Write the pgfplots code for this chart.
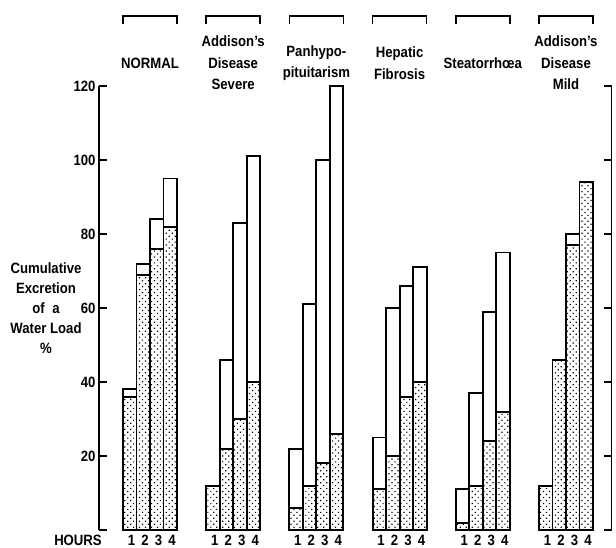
\documentclass[border=0pt]{standalone}
\usepackage{fontspec}
\newfontfamily\lab{Liberation Sans}[FakeStretch=0.88]
\usepackage{pgfplots}
\pgfplotsset{compat=1.18}
\usepackage{pgfplotstable}
\usetikzlibrary{patterns.meta}

% x = bar centre (in picture units), tot = cumulative total, st = stippled part
\pgfplotstableread{
x tot st
129.75 38 36
143.25 72 69
156.75 84 76
170.25 95 82
212.95 12 12
226.45 46 22
239.95 83 30
253.45 101 40
296.15 22 6
309.65 61 12
323.15 100 18
336.65 120 26
379.35 25 11
392.85 60 20
406.35 66 36
419.85 71 40
462.55 11 2
476.05 37 12
489.55 59 24
503.05 75 32
545.75 12 12
559.25 46 46
572.75 80 77
586.25 94 94
}\data

\newcommand\lf{\lab\bfseries\fontsize{15}{21.5}\selectfont}
\newcommand\hrs[4]{%
  \node[font=\lf, inner sep=1bp] at (axis cs:#1,-2.75) {1};
  \node[font=\lf, inner sep=1bp] at (axis cs:#2,-2.75) {2};
  \node[font=\lf, inner sep=1bp] at (axis cs:#3,-2.75) {3};
  \node[font=\lf, inner sep=1bp] at (axis cs:#4,-2.75) {4};}

\begin{document}
\begin{tikzpicture}
\begin{axis}[
  scale only axis, width=512.5bp, height=444bp,
  xmin=99, xmax=611.5, ymin=0, ymax=120, enlargelimits=false,
  axis x line=none, axis y line=box,
  ytick={20,40,...,120}, extra y ticks={0}, extra y tick labels={},
  yticklabel pos=left,
  tick align=inside, major tick length=8bp,
  axis line style={line width=1.9bp},
  tick style={line width=1.9bp, black},
  yticklabel style={font=\lab\bfseries\fontsize{15}{18}\selectfont},
  /pgf/number format/assume math mode=true,
  clip=false,
  ybar, bar width=13.5bp,
]
\addplot[bar shift=0pt, draw=black, fill=white, line width=1.9bp] table[x=x,y=tot]{\data};
\addplot[bar shift=0pt, draw=black, line width=1.9bp,
  pattern={Dots[distance=4.2bp, radius=0.85bp, angle=45]}] table[x=x,y=st]{\data};

% brackets
\draw[line width=1.7bp] (axis cs:123,136.76) -- (axis cs:123,138.92) -- (axis cs:177,138.92) -- (axis cs:177,136.76);
\draw[line width=1.7bp] (axis cs:206.2,136.76) -- (axis cs:206.2,138.92) -- (axis cs:260.2,138.92) -- (axis cs:260.2,136.76);
\draw[line width=1.7bp] (axis cs:289.4,136.76) -- (axis cs:289.4,138.92) -- (axis cs:343.4,138.92) -- (axis cs:343.4,136.76);
\draw[line width=1.7bp] (axis cs:372.6,136.76) -- (axis cs:372.6,138.92) -- (axis cs:426.6,138.92) -- (axis cs:426.6,136.76);
\draw[line width=1.7bp] (axis cs:455.8,136.76) -- (axis cs:455.8,138.92) -- (axis cs:509.8,138.92) -- (axis cs:509.8,136.76);
\draw[line width=1.7bp] (axis cs:539,136.76) -- (axis cs:539,138.92) -- (axis cs:593,138.92) -- (axis cs:593,136.76);

% group labels
\node[font=\lf, align=center] at (axis cs:150,126.2) {NORMAL};
\node[font=\lf, align=center] at (axis cs:233.2,126.2) {Addison’s\\Disease\\Severe};
\node[font=\lf, align=center] at (axis cs:316.4,126.2) {Panhypo-\\pituitarism};
\node[font=\lf, align=center] at (axis cs:399.6,126.2) {Hepatic\\Fibrosis};
\node[font=\lf, align=center] at (axis cs:482.8,126.2) {Steatorrhœa};
\node[font=\lf, align=center] at (axis cs:566,126.2) {Addison’s\\Disease\\Mild};

% y label
\node[font=\lab\bfseries\fontsize{15}{20}\selectfont, align=center] at (axis cs:46,60)
  {Cumulative\\Excretion\\of\enspace a\hspace{12bp}\\Water Load\\\%};

% hours
\node[font=\lf, inner sep=1bp] at (axis cs:78,-2.9) {HOURS};
\hrs{131.5}{145}{158.5}{172}
\hrs{214.7}{228.2}{241.7}{255.2}
\hrs{297.9}{311.4}{324.9}{338.4}
\hrs{381.1}{394.6}{408.1}{421.6}
\hrs{464.3}{477.8}{491.3}{504.8}
\hrs{547.5}{561}{574.5}{588}

\coordinate (BL) at (axis cs:0,-4.865);
\coordinate (TR) at (axis cs:616,143.243);
\end{axis}
\pgfresetboundingbox
\path[use as bounding box] (BL) rectangle (TR);
\end{tikzpicture}
\end{document}
